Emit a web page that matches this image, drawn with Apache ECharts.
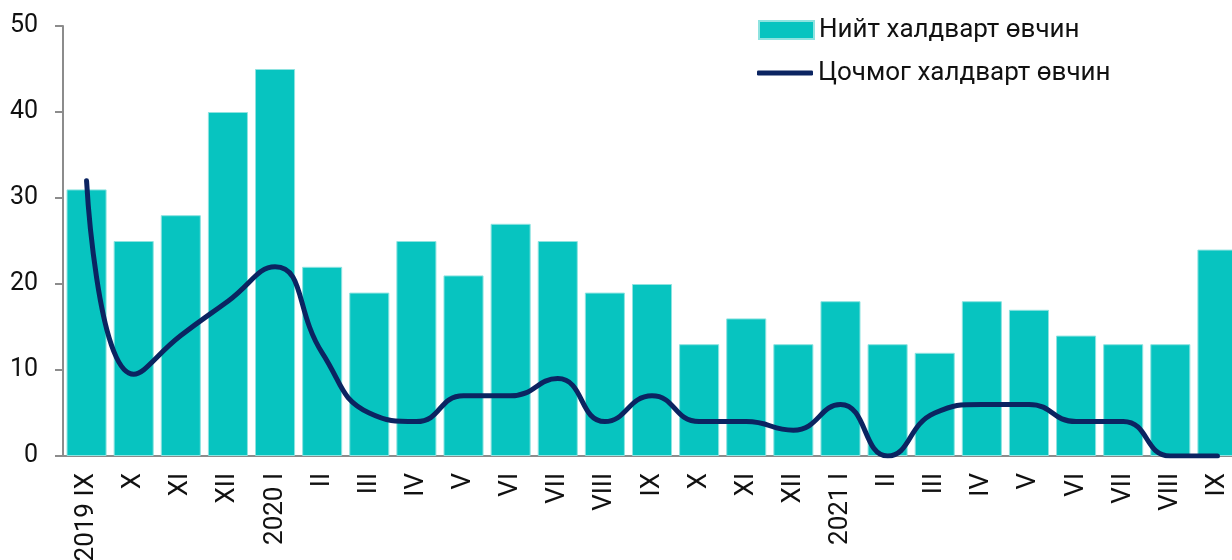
<!DOCTYPE html>
<html>
<head>
<meta charset="utf-8">
<script src="https://cdn.jsdelivr.net/npm/echarts@6/dist/echarts.min.js"></script>
<style>
html, body { margin: 0; padding: 0; background: #fff; }
#main { width: 1232px; height: 560px; }
</style>
</head>
<body>
<div id="main"></div>
<script>
// months, sep 2019 - sep 2021
var categories = ['2019 IX', 'X', 'XI', 'XII', '2020 I', 'II', 'III', 'IV', 'V', 'VI', 'VII', 'VIII', 'IX',
    'X', 'XI', 'XII', '2021 I', 'II', 'III', 'IV', 'V', 'VI', 'VII', 'VIII', 'IX'];
var totalCases = [31, 25, 28, 40, 45, 22, 19, 25, 21, 27, 25, 19, 20, 13, 16, 13, 18, 13, 12, 18, 17, 14, 13, 13, 24];
var acuteCases = [32, 9.5, 14, 18, 22, 12, 5, 4, 7, 7, 9, 4, 7, 4, 4, 3, 6, 0, 5, 6, 6, 4, 4, 0, 0];
var seriesNames = ['Нийт халдварт өвчин', 'Цочмог халдварт өвчин'];

var chartDom = document.getElementById('main');
var myChart = echarts.init(chartDom);
var fontFamily = 'Roboto, "Noto Sans", sans-serif';
var barColor = '#07C4C0';
var lineColor = '#0B2461';

var legendText = { fontSize: 26, color: '#111', fontFamily: fontFamily };

var option = {
    backgroundColor: '#fff',
    animation: false,
    textStyle: { fontFamily: fontFamily },
    // two legends so the line icon can be thin
    legend: [
        {
            orient: 'vertical',
            left: 753,
            top: 12,
            itemWidth: 55,
            itemHeight: 18,
            textStyle: legendText,
            data: [{ name: seriesNames[0], icon: 'rect' }]
        },
        {
            orient: 'vertical',
            left: 752,
            top: 55,
            itemWidth: 56,
            itemHeight: 5,
            textStyle: legendText,
            data: [{ name: seriesNames[1], icon: 'roundRect', itemStyle: { color: lineColor } }]
        }
    ],
    grid: {
        left: 63,
        top: 26,
        width: 1178,
        height: 430,
        outerBoundsMode: 'none'
    },
    xAxis: {
        type: 'category',
        data: categories,
        axisLine: { show: true, lineStyle: { color: '#8c8c8c', width: 2 } },
        axisTick: { show: false },
        axisLabel: {
            rotate: 90,
            interval: 0,
            margin: 17,
            fontSize: 26,
            color: '#111'
        }
    },
    yAxis: {
        type: 'value',
        min: 0,
        max: 50,
        interval: 10,
        splitLine: { show: false },
        axisLine: { show: true, lineStyle: { color: '#8c8c8c', width: 2 } },
        axisTick: { show: true, length: 8, lineStyle: { color: '#8c8c8c', width: 2 } },
        axisLabel: { fontSize: 25, color: '#111', margin: 25 }
    },
    series: [
        {
            name: seriesNames[0],
            type: 'bar',
            data: totalCases,
            barCategoryGap: '15%',
            itemStyle: {
                color: barColor,
                borderColor: '#8ee3e0',
                borderWidth: 1
            }
        },
        {
            name: seriesNames[1],
            type: 'line',
            data: acuteCases,
            smooth: 0.5,
            symbol: 'none',
            lineStyle: { color: lineColor, width: 5, cap: 'round' },
            itemStyle: { color: lineColor }
        }
    ]
};

option && myChart.setOption(option);
</script>
</body>
</html>
